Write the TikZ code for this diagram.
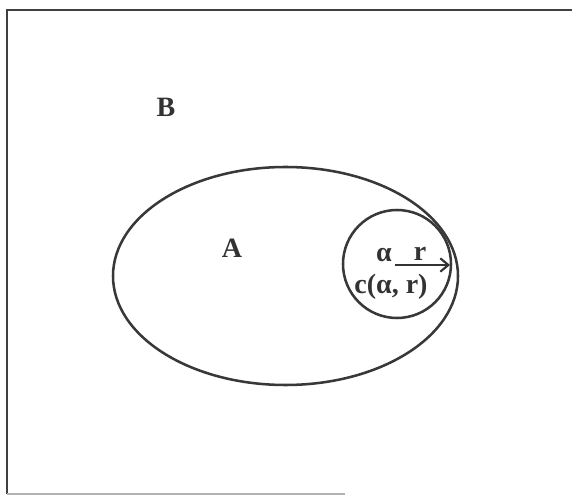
\documentclass[tikz,border=0pt]{standalone}
\usepackage{fontspec}
\setmainfont{Liberation Serif}
\usepackage{tikz}
\usetikzlibrary{arrows.meta}

\tikzset{
  outline/.style={draw=black!78, line width=1.9pt},
  lbl/.style={inner sep=0.75pt, font=\fontsize{21}{24}\selectfont\bfseries, text=black!80}
}

\begin{document}
\begin{tikzpicture}[x=0.75pt,y=0.75pt,yscale=-1,xscale=1]
\useasboundingbox (0,0) rectangle (572,495);

%Frame
\draw [black!75, line width=1.5pt] (7,494) -- (7,10) -- (572,10) ;
\draw [black!30, line width=1pt] (7,494) -- (345,494) ;

%Shape: Ellipse (set A)
\draw [outline] (285.5,276) ellipse (172.5 and 109) ;

%Shape: Circle c(alpha, r)
\coordinate (ctr) at (395,265) ;
\coordinate (rim) at (450,265) ;
\draw [outline] (397,264) circle (54) ;

%Straight Lines: radius
\draw [black!80, line width=1.6pt, -{Straight Barb[length=6pt,width=10pt]}] (ctr) -- (rim) ;

% Text Node
\node [lbl] (lblB) at (166,107) {B};
% Text Node
\node [lbl] (lblA) at (232,248) {A};
% Text Node
\node [lbl] (lblalpha) at (384,255) {α};
% Text Node
\node [lbl] (lblr) at (420,254) {r};
% Text Node
\node [lbl] (lblc) at (391,287) {c(α, r)};

\end{tikzpicture}
\end{document}
